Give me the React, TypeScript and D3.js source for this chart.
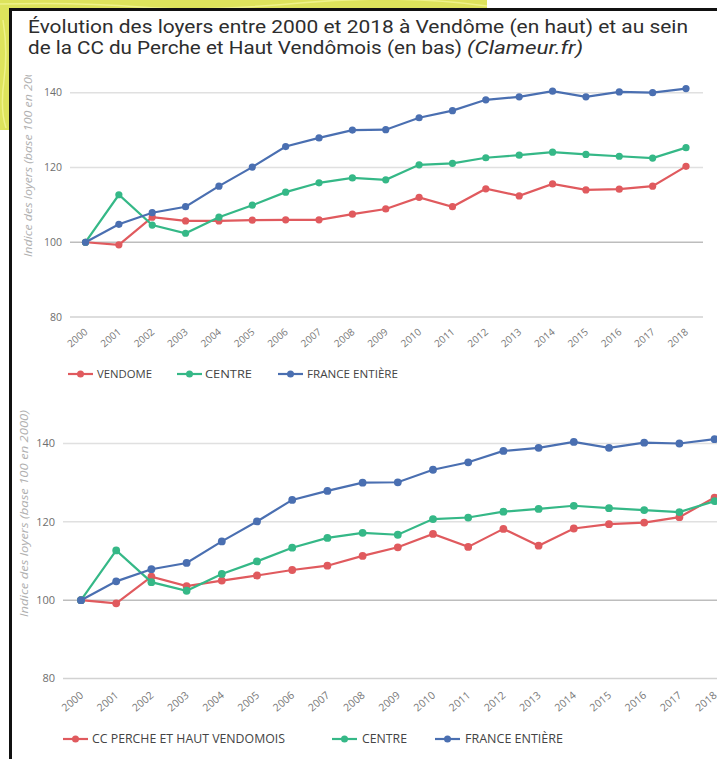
import React from "react";
import * as d3 from "d3";

const years = [2000, 2001, 2002, 2003, 2004, 2005, 2006, 2007, 2008, 2009, 2010, 2011, 2012, 2013, 2014, 2015, 2016, 2017, 2018];
const vendome = [100, 99.3, 106.7, 105.7, 105.7, 105.9, 106.0, 106.0, 107.5, 108.9, 112.0, 109.5, 114.3, 112.4, 115.6, 114.0, 114.2, 115.0, 120.3];
const perche = [100, 99.2, 106.0, 103.6, 105.0, 106.3, 107.7, 108.8, 111.3, 113.5, 116.9, 113.6, 118.2, 113.9, 118.3, 119.4, 119.8, 121.2, 126.2];
const centre = [100, 112.7, 104.6, 102.4, 106.7, 109.9, 113.4, 115.9, 117.2, 116.7, 120.7, 121.1, 122.6, 123.3, 124.1, 123.5, 123.0, 122.5, 125.3];
const france = [100, 104.8, 107.9, 109.5, 115.0, 120.1, 125.6, 127.9, 130.0, 130.1, 133.3, 135.2, 138.1, 138.9, 140.4, 138.9, 140.2, 140.0, 141.1];
const yTicks = [80, 100, 120, 140];
const titleLine1 = "Évolution des loyers entre 2000 et 2018 à Vendôme (en haut) et au sein";
const titleLine2 = "de la CC du Perche et Haut Vendômois (en bas)";
const titleSource = "(Clameur.fr)";
const yTitle = "Indice des loyers (base 100 en 2000)";
const topLegend = ["VENDOME", "CENTRE", "FRANCE ENTIÈRE"];
const bottomLegend = ["CC PERCHE ET HAUT VENDOMOIS", "CENTRE", "FRANCE ENTIÈRE"];

const RED = "#e05a5e";
const GREEN = "#35b887";
const BLUE = "#4a6fb1";

type PanelProps = {
  local: number[];
  x0: number; x1: number; yTop: number; yBot: number;
  gridX0: number; gridX1: number; labelX: number;
  fs: number; r: number;
  legend: string[]; legendY: number;
  legendPos: { lx: number; tx: number; tl: number }[];
  titleX: number; titleY: number; titleLen: number; titleFs: number;
  clipTop?: number; id: string;
  tickDy: number;
};

function Panel(p: PanelProps) {
  const x = d3.scaleLinear().domain([2000, 2018]).range([p.x0, p.x1]);
  const y = d3.scaleLinear().domain([80, 140]).range([p.yBot, p.yTop]);
  const line = d3.line<number>().x((_, i) => x(years[i])).y((v) => y(v));
  const series = [
    { data: p.local, color: RED },
    { data: centre, color: GREEN },
    { data: france, color: BLUE },
  ];
  const colors = [RED, GREEN, BLUE];
  return (
    <g>
      {p.clipTop !== undefined && (
        <defs>
          <clipPath id={p.id}>
            <rect x={0} y={p.clipTop} width={100} height={700} />
          </clipPath>
        </defs>
      )}
      <g clipPath={p.clipTop !== undefined ? `url(#${p.id})` : undefined}>
        <text
          transform={`translate(${p.titleX},${p.titleY}) rotate(-90)`}
          fontFamily="Open Sans, sans-serif"
          fontStyle="italic"
          fontSize={p.titleFs}
          fill="#b0b0b0"
          textLength={p.titleLen}
          lengthAdjust="spacingAndGlyphs"
        >
          {yTitle}
        </text>
      </g>
      {yTicks.map((t) => (
        <g key={t}>
          <line
            x1={p.gridX0}
            x2={p.gridX1}
            y1={y(t)}
            y2={y(t)}
            stroke={t === 100 ? "#bdbdbd" : t === 80 ? "#d2d2d2" : "#e0e0e0"}
            strokeWidth={1.5}
          />
          <text
            x={p.labelX}
            y={y(t)}
            dy="0.35em"
            textAnchor="end"
            fontFamily="Open Sans, sans-serif"
            fontSize={p.fs}
            fill="#6e6e6e"
          >
            {t}
          </text>
        </g>
      ))}
      {years.map((yr) => (
        <text
          key={yr}
          transform={`translate(${x(yr) + 3},${p.yBot + p.tickDy}) rotate(-40)`}
          textAnchor="end"
          fontFamily="Open Sans, sans-serif"
          fontSize={p.fs - 0.5}
          fill="#777"
        >
          {yr}
        </text>
      ))}
      {series.map((s, k) => (
        <g key={k}>
          <path d={line(s.data) || ""} fill="none" stroke={s.color} strokeWidth={2.2} />
          {s.data.map((v, i) => (
            <circle key={i} cx={x(years[i])} cy={y(v)} r={p.r} fill={s.color} />
          ))}
        </g>
      ))}
      {p.legend.map((name, k) => (
        <g key={name}>
          <line
            x1={p.legendPos[k].lx}
            x2={p.legendPos[k].lx + 25}
            y1={p.legendY}
            y2={p.legendY}
            stroke={colors[k]}
            strokeWidth={2.2}
          />
          <circle cx={p.legendPos[k].lx + 12.5} cy={p.legendY} r={3.5} fill={colors[k]} />
          <text
            x={p.legendPos[k].tx}
            y={p.legendY}
            dy="0.36em"
            fontFamily="Open Sans, sans-serif"
            fontSize={p.fs + 1}
            fill="#444"
            textLength={p.legendPos[k].tl}
            lengthAdjust="spacingAndGlyphs"
          >
            {name}
          </text>
        </g>
      ))}
    </g>
  );
}

export default function App() {
  return (
    <svg
      width={717}
      height={759}
      style={{ position: "absolute", left: 0, top: 0, background: "#fff" }}
    >
      <rect x={0} y={0} width={717} height={759} fill="#fff" />
      {/* yellow map background peeking out */}
      <rect x={0} y={0} width={487} height={10} fill="#dde35c" />
      <rect x={0} y={0} width={11} height={130} fill="#dde35c" />
      <path d="M0,4 Q80,2 140,7 T300,3 T487,6" stroke="#eef28a" strokeWidth={1.5} fill="none" />
      <path d="M3,20 Q8,50 4,80 T6,128" stroke="#eef28a" strokeWidth={1.5} fill="none" />
      {/* frame */}
      <line x1={9} x2={717} y1={9.5} y2={9.5} stroke="#111" strokeWidth={3} />
      <line x1={10.5} x2={10.5} y1={8} y2={759} stroke="#111" strokeWidth={3} />
      {/* title */}
      <text x={28} y={33} fontFamily="Roboto, sans-serif" fontSize={19} fill="#2e2e2e" textLength={660} lengthAdjust="spacingAndGlyphs">
        {titleLine1}
      </text>
      <text x={28} y={54} fontFamily="Roboto, sans-serif" fontSize={19} fill="#2e2e2e" textLength={434} lengthAdjust="spacingAndGlyphs">
        {titleLine2}
      </text>
      <text x={467} y={54} fontFamily="Roboto, sans-serif" fontStyle="italic" fontSize={19} fill="#2e2e2e" textLength={116} lengthAdjust="spacingAndGlyphs">
        {titleSource}
      </text>
      <Panel
        id="clipTop"
        local={vendome}
        x0={85.5}
        x1={686}
        yTop={92.7}
        yBot={317}
        gridX0={70}
        gridX1={703}
        labelX={62}
        fs={10.5}
        r={3.6}
        legend={topLegend}
        legendY={374}
        legendPos={[
          { lx: 68, tx: 97, tl: 55 },
          { lx: 177, tx: 205, tl: 47 },
          { lx: 278, tx: 307, tl: 91 },
        ]}
        titleX={32}
        titleY={257}
        titleLen={197}
        titleFs={10}
        clipTop={75}
        tickDy={16}
      />
      <Panel
        id="clipBot"
        local={perche}
        x0={81}
        x1={714.6}
        yTop={443.5}
        yBot={678.5}
        gridX0={63}
        gridX1={717}
        labelX={55}
        fs={11}
        r={3.9}
        legend={bottomLegend}
        legendY={739}
        legendPos={[
          { lx: 63, tx: 92, tl: 193 },
          { lx: 332, tx: 362, tl: 45 },
          { lx: 435, tx: 465, tl: 98 },
        ]}
        titleX={27.5}
        titleY={617}
        titleLen={207}
        titleFs={10.5}
        tickDy={18}
      />
    </svg>
  );
}
